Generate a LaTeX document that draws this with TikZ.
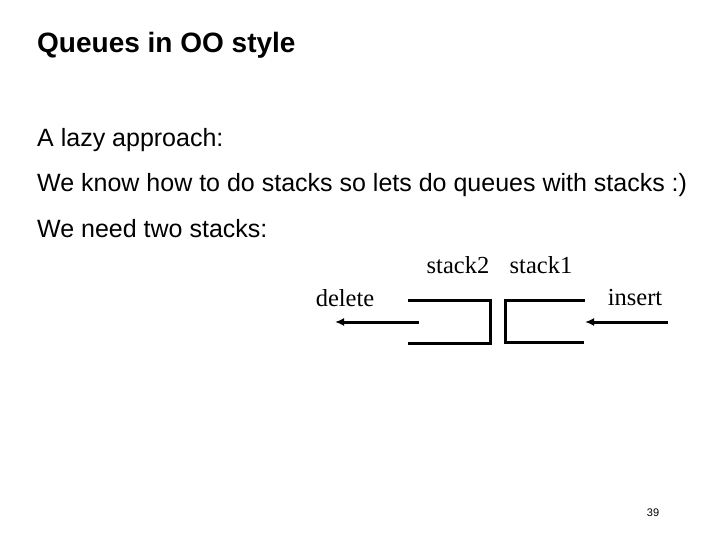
\documentclass[tikz,border=0pt]{standalone}
\usepackage{fontspec}
\usetikzlibrary{arrows.meta}
\setmainfont{Liberation Serif}
\setsansfont{Liberation Sans}
\begin{document}
\begin{tikzpicture}[x=1pt,y=-1pt,
  body/.style={anchor=west,inner sep=0pt,font=\sffamily\fontsize{25}{28}\selectfont},
  lbl/.style={inner sep=0pt,font=\fontsize{24.5}{28}\selectfont},
  thick line/.style={line width=3pt},
  arr/.style={line width=3pt,-{Latex[length=9pt,width=8pt]}}]
\useasboundingbox[fill=white] (0,0) rectangle (720,540);
\node[body,font=\sffamily\bfseries\fontsize{28}{32}\selectfont] (title) at (37,45) {Queues in OO style};
\node[body] (l1) at (37,140) {A lazy approach:};
\node[body] (l2) at (37,185) {We know how to do stacks so lets do queues with stacks :)};
\node[body] (l3) at (37,229) {We need two stacks:};
\node[lbl] (s2) at (458,265) {stack2};
\node[lbl] (s1) at (541,265) {stack1};
\node[lbl] (del) at (345,298) {delete};
\node[lbl] (ins) at (635,298) {insert};
\draw[thick line] (408,300) -- (490,300) -- (490,343) -- (408,343);
\draw[thick line] (585,300) -- (505,300) -- (505,342) -- (584,342);
\coordinate (d0) at (419,322); \coordinate (d1) at (335,322);
\coordinate (i0) at (668,322); \coordinate (i1) at (585,322);
\draw[arr] (d0) -- (d1);
\draw[arr] (i0) -- (i1);
\node[inner sep=0pt,font=\sffamily\fontsize{11}{12}\selectfont] (pg) at (653,513) {39};
\end{tikzpicture}
\end{document}
